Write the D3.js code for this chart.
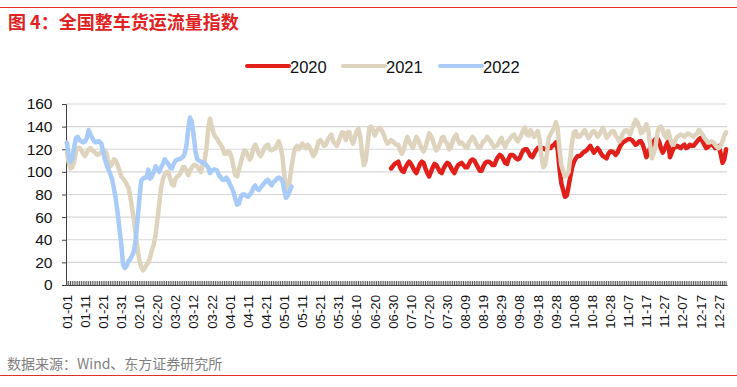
<!DOCTYPE html>
<html>
<head>
<meta charset="utf-8">
<script src="https://cdn.jsdelivr.net/npm/d3@7/dist/d3.min.js"></script>
<style>
  html, body { margin: 0; padding: 0; background: #fff; }
  svg { display: block; }
</style>
</head>
<body>
<div id="chart"></div>
<script>
// Tick labels shown under the axis (every 10th day)
const tickLabels = ['01-01','01-11','01-21','01-31','02-10','02-20','03-02','03-12','03-22','04-01',
  '04-11','04-21','05-01','05-11','05-21','05-31','06-10','06-20','06-30','07-10','07-20','07-30',
  '08-09','08-19','08-29','09-08','09-18','09-28','10-08','10-18','10-28','11-07','11-17','11-27',
  '12-07','12-17','12-27'];

const yTicks = [0, 20, 40, 60, 80, 100, 120, 140, 160];

const seriesNames = ['2020', '2021', '2022'];
const seriesColors = ['#e1201c', '#ded3bc', '#a8cbf8'];

// 2020 starts late in the year
const start2020 = '06-29';
const values2020 = [103,
  105,107,108,109,104,101,100,104,107,109,
  107,104,101,99,103,107,109,108,103,99,
  96,100,104,107,106,103,100,99,103,106,
  108,107,104,101,99,103,106,107,108,106,
  104,104,107,110,111,110,107,104,101,101,
  105,108,109,109,108,106,106,110,113,115,
  114,111,108,107,112,115,115,114,112,111,
  112,116,119,120,120,117,114,113,116,119,
  121,122,120,121,120,120,121,121,123,124,
  126,120,103,90,84,78,79,87,96,104,
  109,112,114,114,115,117,118,119,121,123,
  120,117,119,121,119,116,114,113,112,116,
  118,118,117,115,117,121,124,126,127,128,
  129,129,128,126,124,125,127,127,124,119,
  113,117,121,124,127,129,130,127,121,117,
  120,124,127,113,117,121,122,123,122,121,
  123,124,121,122,124,123,123,125,127,129,
  130,127,124,121,122,124,125,123,121,122,
  123,116,108,111,120];

const values2021 = [
  117,108,103,104,109,118,121,121,119,116,
  114,117,120,121,119,118,116,115,116,117,
  119,119,115,109,105,107,111,110,106,101,
  96,94,92,89,86,78,68,58,44,32,
  22,16,13,15,18,20,25,31,36,45,
  58,72,86,93,98,100,100,94,89,88,
  94,96,97,100,104,104,101,97,101,104,
  106,106,105,102,100,106,110,120,138,147,
  140,134,131,129,126,124,121,116,116,118,
  117,112,105,97,96,102,108,114,119,118,
  114,111,114,121,124,120,116,114,117,121,
  123,124,120,119,120,121,124,127,122,114,
  98,87,82,92,104,114,121,123,120,122,
  125,123,121,124,122,118,114,116,121,127,
  128,126,123,124,128,131,133,127,125,123,
  127,131,135,134,128,135,135,129,125,130,
  136,138,131,116,106,110,124,139,140,137,
  132,136,138,139,136,133,128,125,126,128,
  127,125,124,124,119,116,120,126,131,127,
  124,121,126,131,128,124,120,118,122,128,
  134,132,128,123,119,121,125,130,131,127,
  125,120,122,127,131,133,128,125,126,124,
  122,121,126,128,131,129,125,122,121,124,
  127,128,131,129,127,124,122,123,124,128,
  130,125,122,126,128,130,132,133,129,127,
  130,133,137,139,133,132,137,134,131,134,
  136,129,114,104,106,115,130,133,136,139,
  144,138,120,106,101,96,97,100,113,127,
  135,136,131,131,133,135,137,133,130,132,
  135,136,134,131,133,136,139,135,130,132,
  134,136,136,132,130,127,130,134,136,137,
  135,133,138,142,146,144,140,134,135,138,
  142,137,124,112,116,122,134,139,140,137,
  132,130,136,130,125,124,128,131,132,133,
  132,131,133,134,133,132,131,133,134,137,
  135,133,130,128,126,126,127,126,124,122,
  121,123,127,132,135];

const values2022 = [
  126,115,109,112,122,130,131,128,127,126,
  127,130,137,133,130,127,126,127,127,125,
  118,111,106,102,98,93,85,76,64,50,
  36,18,15,17,21,23,26,30,40,58,
  75,92,94,95,95,102,94,96,100,105,
  102,100,104,107,111,109,107,104,103,107,
  110,111,111,112,113,116,123,138,148,144,
  132,118,111,110,109,108,108,106,104,99,
  101,102,102,101,97,95,93,93,95,93,
  89,86,82,76,71,72,78,80,80,79,
  78,80,82,86,88,85,84,86,88,90,
  92,93,90,88,91,92,94,95,94,92,
  84,77,79,83,87];

// every day of a (non-leap) year as category
const days = d3.timeDay.range(new Date(2021, 0, 1), new Date(2022, 0, 1)).map(d3.timeFormat('%m-%d'));

const W = 737, H = 387;
const plot = { left: 66, right: 727, top: 104, bottom: 285 };

const svg = d3.select('#chart').append('svg')
  .attr('width', W)
  .attr('height', H);

// Header / footer rules and texts
svg.append('line')
  .attr('x1', 0).attr('x2', W).attr('y1', 7.5).attr('y2', 7.5)
  .attr('stroke', '#e0302c').attr('stroke-width', 1);

svg.append('text')
  .attr('x', 8).attr('y', 28.5)
  .attr('fill', '#e02222')
  .attr('font-family', '"Noto Sans CJK SC", sans-serif')
  .attr('font-weight', 'bold')
  .attr('font-size', 18)
  .text('图 4：全国整车货运流量指数');

svg.append('text')
  .attr('x', 7).attr('y', 369)
  .attr('fill', '#808080')
  .attr('font-family', '"Noto Sans CJK SC", sans-serif')
  .attr('font-size', 14)
  .text('数据来源：Wind、东方证券研究所');

svg.append('line')
  .attr('x1', 0).attr('x2', W).attr('y1', 375.5).attr('y2', 375.5)
  .attr('stroke', '#e0302c').attr('stroke-width', 1);

// Scales
const x = d3.scaleBand().domain(days).range([plot.left, plot.right]);
const y = d3.scaleLinear().domain([0, 160]).range([plot.bottom, plot.top]);
const cx = d => x(d) + x.bandwidth() / 2;

// Gridlines
svg.append('g')
  .selectAll('line')
  .data(yTicks.filter(t => t > 0))
  .join('line')
  .attr('x1', plot.left).attr('x2', plot.right)
  .attr('y1', d => y(d)).attr('y2', d => y(d))
  .attr('stroke', '#d6d6d6').attr('stroke-width', 1.2);

// Y axis
const yAxis = svg.append('g')
  .attr('transform', `translate(${plot.left},0)`)
  .call(d3.axisLeft(y).tickValues(yTicks).tickSize(4).tickPadding(9.5));
yAxis.select('.domain').attr('stroke', '#404040');
yAxis.selectAll('.tick line').attr('stroke', '#404040');
yAxis.selectAll('text')
  .attr('font-family', '"Liberation Sans", Arial, sans-serif')
  .attr('font-size', 15.5)
  .attr('fill', '#111');

// X axis: a tick for every day, labels every 10th day
const xTicks = svg.append('g')
  .attr('transform', `translate(0,${plot.bottom})`)
  .call(d3.axisBottom(x).tickValues(days).tickSize(-4).tickSizeOuter(0).tickFormat(''));
xTicks.select('.domain').attr('stroke', '#404040');
xTicks.selectAll('.tick line').attr('stroke', '#555').attr('stroke-width', 1);

const xLabels = svg.append('g')
  .attr('transform', `translate(0,${plot.bottom})`)
  .call(d3.axisBottom(x).tickValues(tickLabels).tickSize(0));
xLabels.select('.domain').remove();
xLabels.selectAll('text')
  .attr('transform', 'rotate(-90)')
  .attr('x', -10)
  .attr('y', 0)
  .attr('dy', '0.36em')
  .attr('text-anchor', 'end')
  .attr('font-family', '"Liberation Sans", Arial, sans-serif')
  .attr('font-size', 13.2)
  .attr('fill', '#111');

// Series
const offset2020 = days.indexOf(start2020);
const series = [
  { name: seriesNames[0], color: seriesColors[0], points: values2020.map((v, i) => ({ day: days[offset2020 + i], v })) },
  { name: seriesNames[1], color: seriesColors[1], points: values2021.map((v, i) => ({ day: days[i], v })) },
  { name: seriesNames[2], color: seriesColors[2], points: values2022.map((v, i) => ({ day: days[i], v })) }
];

const line = d3.line()
  .defined(d => d.v != null)
  .x(d => cx(d.day))
  .y(d => y(d.v));

svg.append('g')
  .selectAll('path')
  .data(series)
  .join('path')
  .attr('d', d => line(d.points))
  .attr('fill', 'none')
  .attr('stroke', d => d.color)
  .attr('stroke-width', 4.5)
  .attr('stroke-linejoin', 'round')
  .attr('stroke-linecap', 'round');

// Legend
const legendX = [247, 343, 440];
const legend = svg.append('g')
  .selectAll('g')
  .data(series)
  .join('g')
  .attr('transform', (d, i) => `translate(${legendX[i]},66)`);
legend.append('line')
  .attr('x1', 0).attr('x2', 42)
  .attr('stroke', d => d.color)
  .attr('stroke-width', 4)
  .attr('stroke-linecap', 'round');
legend.append('text')
  .attr('x', 43).attr('y', 6.5)
  .attr('font-family', '"Liberation Sans", Arial, sans-serif')
  .attr('font-size', 16.5)
  .attr('fill', '#111')
  .text(d => d.name);
</script>
</body>
</html>
